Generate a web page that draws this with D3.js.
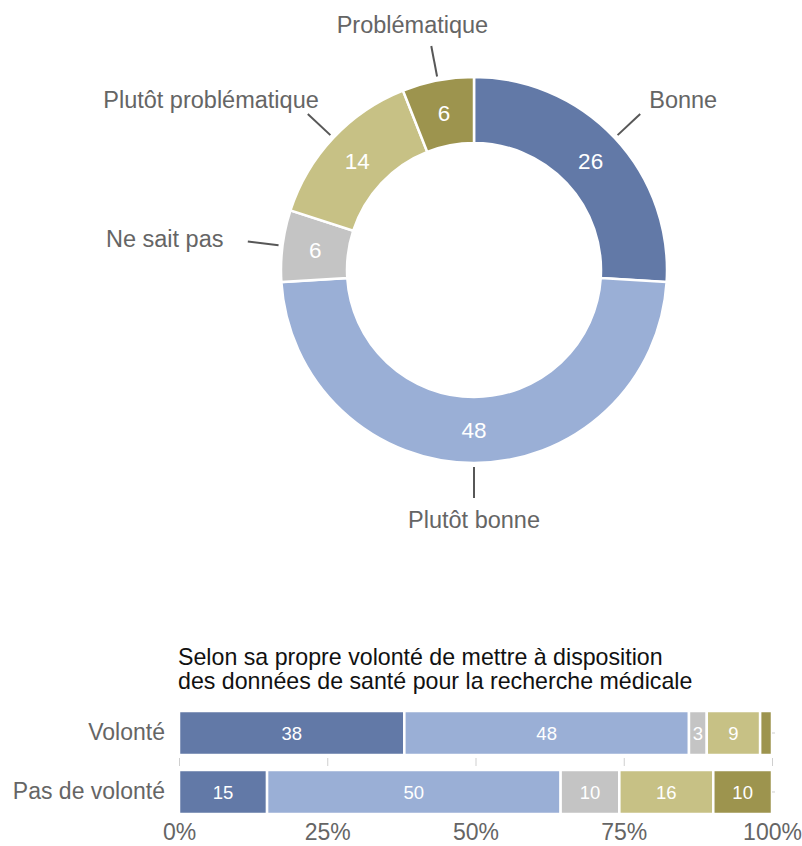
<!DOCTYPE html>
<html>
<head>
<meta charset="utf-8">
<script src="https://cdn.jsdelivr.net/npm/d3@7"></script>
<style>
  html, body { margin: 0; padding: 0; background: #fff; }
  svg { display: block; font-family: "Liberation Sans", Arial, Helvetica, sans-serif; }
</style>
</head>
<body>
<svg id="chart" width="802" height="846"></svg>
<script>
// Opinion categories, shared by the donut and the stacked bars
const categories = ["Bonne", "Plutôt bonne", "Ne sait pas", "Plutôt problématique", "Problématique"];
const colors = ["#6279a7", "#9aafd6", "#c4c4c4", "#c7c185", "#9d944e"];

// Overall distribution (%)
const overall = [26, 48, 6, 14, 6];

// Distribution by willingness to share health data (%)
const groups = ["Volonté", "Pas de volonté"];
const volonte = [38, 48, 3, 9, 2];
const pasDeVolonte = [15, 50, 10, 16, 10];
const showBarValue = [true, true, true, true, false]; // tiny last segment left unlabelled on the first row

const axisTicks = [0, 0.25, 0.5, 0.75, 1];
const barTitle = ["Selon sa propre volonté de mettre à disposition",
                  "des données de santé pour la recherche médicale"];

const svg = d3.select("#chart");
const labelGrey = "#656565";
const labelSize = 23.5;
const color = d3.scaleOrdinal(categories, colors);

/* ---------- Donut ---------- */
const cx = 474, cy = 270, rOuter = 193, rInner = 127;
const donut = svg.append("g").attr("transform", `translate(${cx},${cy})`);

const pie = d3.pie().sort(null).value(d => d.value);
const arcs = pie(categories.map((c, i) => ({ cat: c, value: overall[i] })));
const arc = d3.arc().innerRadius(rInner).outerRadius(rOuter);

donut.selectAll("path.slice").data(arcs).join("path")
  .attr("class", "slice")
  .attr("d", arc)
  .attr("fill", d => color(d.data.cat))
  .attr("stroke", "#fff")
  .attr("stroke-width", 2.5);

donut.selectAll("text.val").data(arcs).join("text")
  .attr("class", "val")
  .attr("transform", d => `translate(${arc.centroid(d)})`)
  .attr("text-anchor", "middle")
  .attr("dy", "0.36em")
  .attr("fill", "#fff")
  .attr("font-size", 22.5)
  .text(d => d.data.value);

// Leader lines and category names around the ring
const dir = d => {
  const a = (d.startAngle + d.endAngle) / 2;
  return [Math.sin(a), -Math.cos(a)];
};
const lineIn = rOuter + 4, lineOut = rOuter + 35, labelR = rOuter + 48, sidePad = 12;

donut.selectAll("line.lead").data(arcs).join("line")
  .attr("class", "lead")
  .attr("x1", d => dir(d)[0] * lineIn)
  .attr("y1", d => dir(d)[1] * lineIn)
  .attr("x2", d => dir(d)[0] * lineOut)
  .attr("y2", d => dir(d)[1] * lineOut)
  .attr("stroke", "#575757")
  .attr("stroke-width", 2);

const capH = 16.5;
donut.selectAll("text.cat").data(arcs).join("text")
  .attr("class", "cat")
  .attr("fill", labelGrey)
  .attr("font-size", labelSize)
  .text(d => d.data.cat)
  .each(function (d) {
    const [dx, dy] = dir(d);
    const w = this.getComputedTextLength();
    const px = dx * (labelR + sidePad), py = dy * labelR;
    // anchor the label box on the side facing the ring
    const left = px - w * (1 - dx) / 2;
    const top = py - capH * (1 - dy) / 2;
    d3.select(this).attr("x", left).attr("y", top + capH);
  });

/* ---------- 100% stacked bars ---------- */
const rows = groups.map((g, i) => {
  const vals = i === 0 ? volonte : pasDeVolonte;
  const o = { group: g };
  categories.forEach((c, j) => { o[c] = vals[j]; });
  return o;
});
const stacked = d3.stack().keys(categories).offset(d3.stackOffsetExpand)(rows);

const x = d3.scaleLinear().domain([0, 1]).range([179, 772]);
const y = d3.scaleBand().domain(groups).range([711, 814]).paddingInner(0.254).paddingOuter(0);

const bars = svg.append("g");
const layer = bars.selectAll("g.layer").data(stacked).join("g")
  .attr("class", "layer")
  .attr("fill", d => color(d.key));

layer.selectAll("rect").data(d => d.map(s => ({ s, key: d.key }))).join("rect")
  .attr("x", d => x(d.s[0]))
  .attr("y", d => y(d.s.data.group))
  .attr("width", d => x(d.s[1]) - x(d.s[0]))
  .attr("height", y.bandwidth())
  .attr("stroke", "#fff")
  .attr("stroke-width", 2.5);

layer.selectAll("text").data(d => d.map(s => ({ s, key: d.key })))
  .join("text")
  .filter(d => d.s.data.group !== groups[0] || showBarValue[categories.indexOf(d.key)])
  .attr("x", d => (x(d.s[0]) + x(d.s[1])) / 2)
  .attr("y", d => y(d.s.data.group) + y.bandwidth() / 2)
  .attr("dy", "0.36em")
  .attr("text-anchor", "middle")
  .attr("fill", "#fff")
  .attr("font-size", 18.5)
  .text(d => d.s.data[d.key]);

// Group names on the left
const yAxis = svg.append("g")
  .attr("transform", `translate(${x(0)},0)`)
  .call(d3.axisLeft(y).tickSize(0).tickPadding(14));
yAxis.select(".domain").remove();
yAxis.selectAll("text")
  .attr("font-size", 23)
  .attr("font-family", "Liberation Sans, Arial, sans-serif")
  .attr("fill", labelGrey);

// Small ticks on the right edge
const yRight = svg.append("g")
  .attr("transform", `translate(${x(1)},0)`)
  .call(d3.axisRight(y).tickSize(3).tickFormat(""));
yRight.select(".domain").remove();
yRight.selectAll("line").attr("stroke", "#cfcfcf");

// Percentage axis: ticks between the rows, labels below
const axisY = 758;
const xAxis = svg.append("g")
  .attr("transform", `translate(0,${axisY})`)
  .call(d3.axisBottom(x).tickValues(axisTicks).tickSize(8).tickFormat(d3.format(".0%")));
xAxis.select(".domain").remove();
xAxis.selectAll("line").attr("stroke", "#cfcfcf");
xAxis.selectAll("text")
  .attr("y", 82)
  .attr("dy", 0)
  .attr("font-size", 23)
  .attr("font-family", "Liberation Sans, Arial, sans-serif")
  .attr("fill", labelGrey);

// Title above the bars
svg.append("text")
  .attr("x", 178)
  .attr("y", 665)
  .attr("font-size", 23.2)
  .attr("fill", "#111")
  .selectAll("tspan").data(barTitle).join("tspan")
  .attr("x", 178)
  .attr("dy", (d, i) => i === 0 ? 0 : 24)
  .text(d => d);
</script>
</body>
</html>
